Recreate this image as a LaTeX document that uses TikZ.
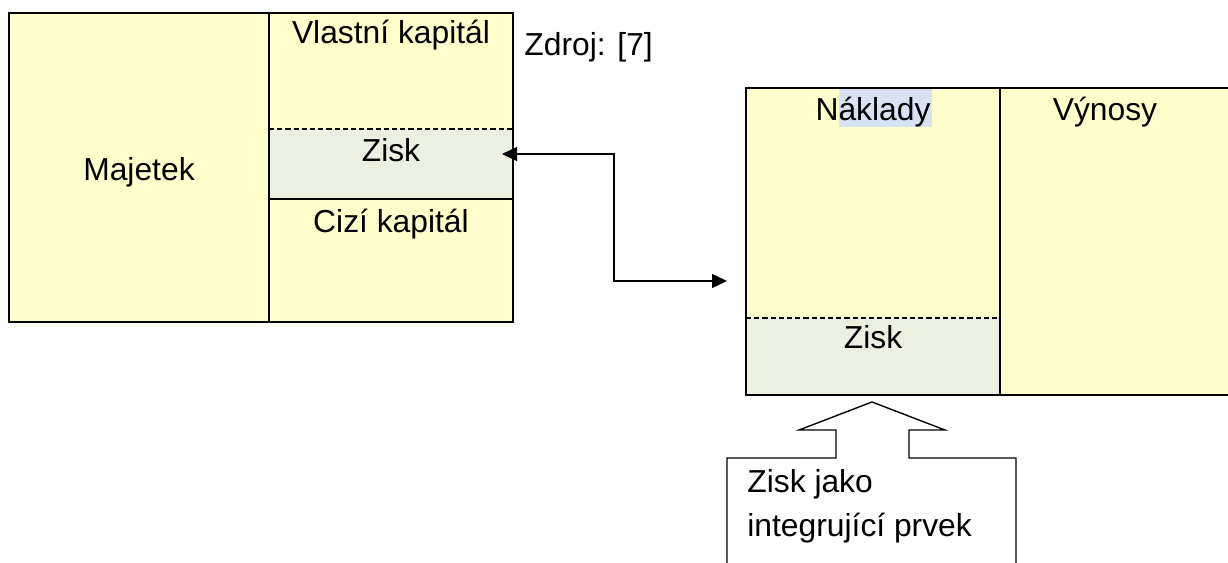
\documentclass[tikz,border=0pt]{standalone}
\usepackage{fontspec}
\setmainfont{Liberation Sans}
\usetikzlibrary{arrows.meta}
\definecolor{paleyellow}{HTML}{FFFFCC}
\definecolor{palegreen}{HTML}{EBF1DE}
\definecolor{selblue}{HTML}{D9E2F3}
\tikzset{
  frame/.style={draw=black, line width=1.1pt},
  divider/.style={draw=black, line width=1.1pt},
  dashdiv/.style={draw=black, line width=0.8pt, dash pattern=on 2.6pt off 1.5pt},
  lbl/.style={anchor=base, inner sep=0pt, font=\fontsize{15.9}{19}\selectfont},
  conn/.style={draw=black, line width=0.75pt, {Triangle[length=7.5pt,width=7pt]}-{Triangle[length=7.5pt,width=7pt]}},
  callout/.style={draw=black, line width=0.7pt}
}
\begin{document}
\begin{tikzpicture}[x=0.5pt,y=-0.5pt]
\useasboundingbox (0,0) rectangle (1228,563);
% left box
\fill[paleyellow] (9,13) rectangle (513,322);
\fill[palegreen] (269,129) rectangle (513,199);
\draw[divider] (269,13) -- (269,322);
\draw[dashdiv] (269,129) -- (513,129);
\draw[divider] (269,199) -- (513,199);
\draw[frame] (9,13) rectangle (513,322);
% right box
\fill[paleyellow] (746,88) rectangle (1240,395);
\fill[palegreen] (746,318) rectangle (1000,395);
\fill[selblue] (839,89) rectangle (932,127);
\draw[divider] (1000,88) -- (1000,395);
\draw[dashdiv] (746,318) -- (1000,318);
\draw[frame] (1240,88) -- (746,88) -- (746,395) -- (1240,395);
% labels
\node[lbl] (maj) at (139,180) {Majetek};
\node[lbl] (vk) at (391,43) {Vlastní kapitál};
\node[lbl] (lzisk) at (391,161) {Zisk};
\node[lbl] (ck) at (391,232) {Cizí kapitál};
\node[lbl, anchor=base west] (zdroj) at (524,55) {Zdroj: [7]};
\node[lbl] (nakl) at (873,120) {Náklady};
\node[lbl] (vyn) at (1105,120) {Výnosy};
\node[lbl] (rzisk) at (873,348) {Zisk};
% connector
\coordinate (zl) at (502,154);
\coordinate (zr) at (727,281);
\draw[conn] (zl) -- (614,154) |- (zr);
% callout
\draw[callout] (727,575) -- (727,458) -- (836,458) -- (836,430) -- (799,430) -- (872,402)
  -- (945,430) -- (909,430) -- (909,458) -- (1016,458) -- (1016,575);
\node[lbl, anchor=base west] (c1) at (747,492) {Zisk jako};
\node[lbl, anchor=base west] (c2) at (747,536) {integrující prvek};
\end{tikzpicture}
\end{document}
